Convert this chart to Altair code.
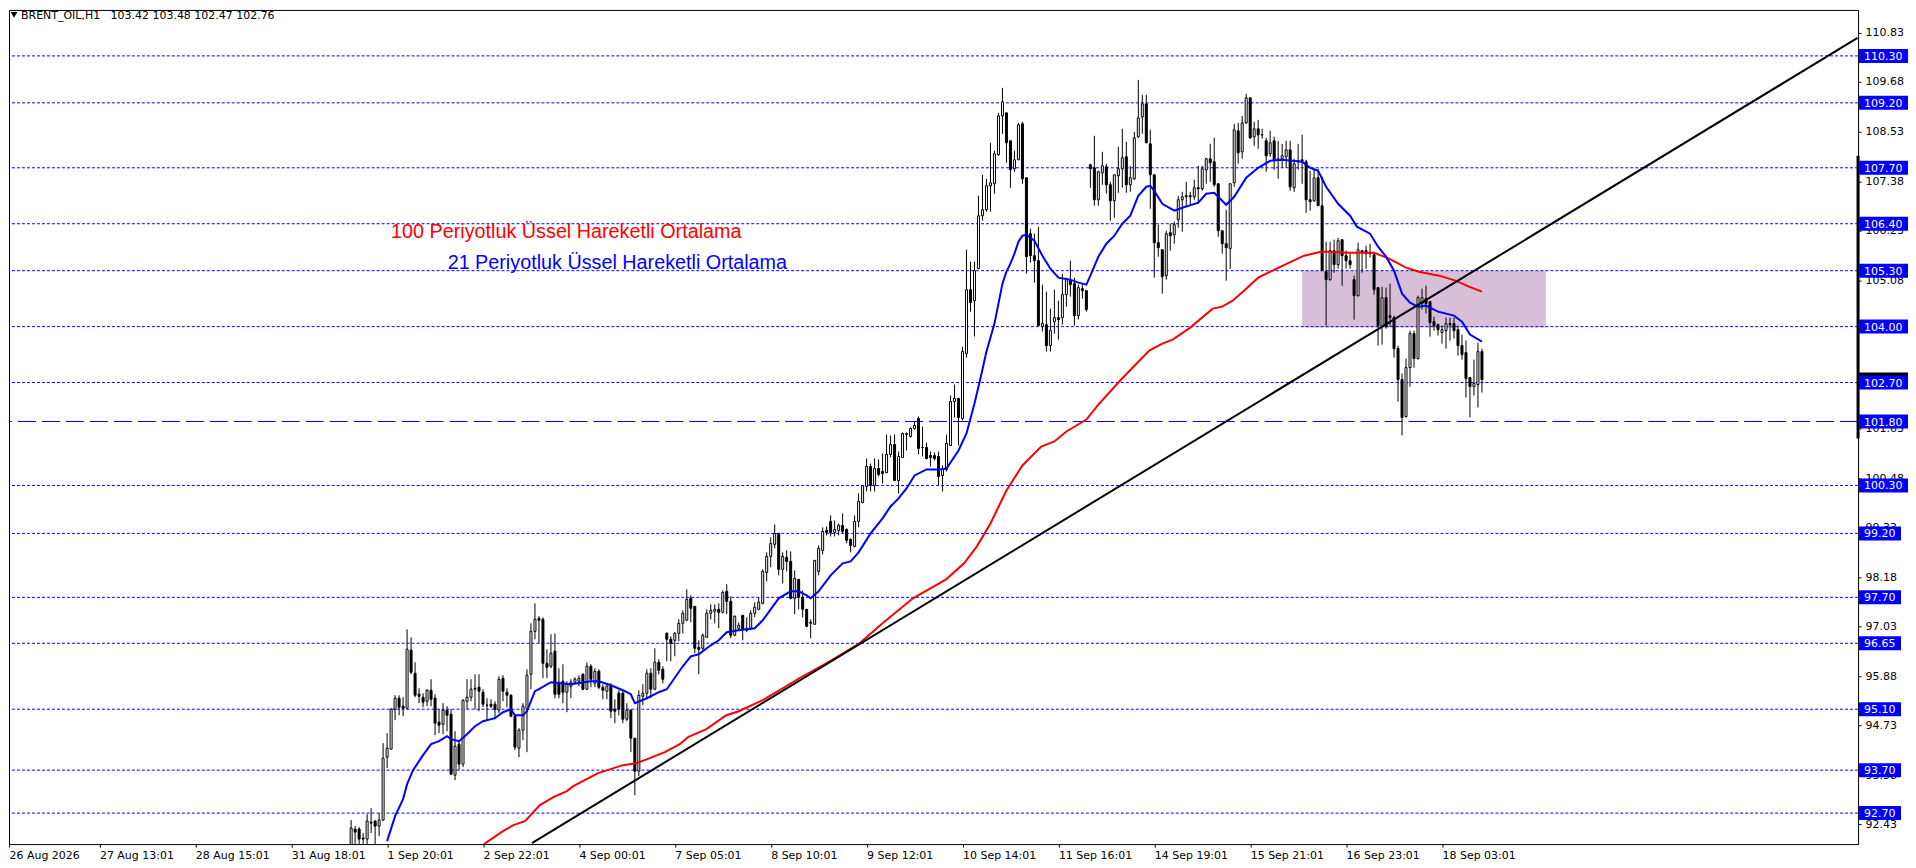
import json

import altair as alt
import pandas as pd

# hourly candles
opens = [
    91.9, 92.32, 92.32, 92.12, 92.09, 92.49, 92.5, 92.39, 92.52, 94.0,
    94.19, 95.1, 95.36, 95.19, 95.13, 96.49, 95.95, 95.45, 95.39, 95.29,
    95.54, 95.36, 94.81, 94.75, 95.08, 95.0, 93.57, 94.29, 93.84, 95.29,
    95.39, 95.58, 95.63, 95.51, 95.2, 95.23, 95.22, 95.09, 95.82, 95.51,
    95.43, 94.95, 94.21, 94.61, 95.1, 95.91, 96.92, 97.23, 97.2, 96.17,
    96.11, 96.46, 95.74, 95.76, 95.5, 95.64, 95.74, 95.77, 95.91, 95.58,
    96.11, 95.72, 95.99, 95.63, 95.53, 95.64, 95.1, 95.49, 95.49, 94.88,
    95.08, 94.44, 93.67, 95.41, 95.49, 95.94, 95.58, 96.2, 96.03, 96.88,
    96.74, 96.7, 96.88, 97.11, 97.17, 97.68, 97.5, 96.55, 96.53, 96.79,
    97.34, 97.39, 97.43, 97.37, 97.85, 97.61, 96.82, 97.0, 97.28, 97.0,
    97.0, 97.33, 97.44, 97.58, 98.3, 98.65, 98.94, 99.2, 98.36, 98.63,
    98.54, 97.68, 98.12, 97.72, 97.44, 97.13, 97.08, 98.31, 98.8, 99.27,
    99.47, 99.23, 99.27, 99.38, 99.29, 99.06, 98.89, 99.48, 99.92, 100.29,
    100.75, 100.3, 100.7, 100.64, 100.62, 101.03, 101.27, 100.43, 100.97, 101.5,
    101.45, 101.63, 101.87, 101.2, 101.2, 101.0, 101.0, 100.98, 100.55, 100.68,
    101.25, 102.26, 102.33, 101.87, 103.37, 104.86, 104.6, 105.35, 106.59, 106.73,
    107.27, 107.32, 108.0, 108.89, 108.98, 108.31, 107.67, 107.88, 108.72, 107.46,
    106.15, 105.66, 105.54, 104.01, 104.05, 103.57, 104.11, 104.21, 104.21, 104.75,
    105.06, 104.99, 104.25, 104.88, 104.84, 107.77, 107.69, 106.94, 107.57, 107.71,
    107.31, 106.92, 107.5, 107.67, 107.96, 107.31, 107.44, 108.41, 108.87, 109.17,
    108.25, 107.53, 105.95, 105.8, 105.18, 106.19, 106.14, 106.49, 106.95, 107.05,
    107.04, 107.01, 107.23, 107.21, 107.65, 107.91, 107.84, 107.32, 106.22, 105.93,
    105.81, 107.34, 108.55, 108.06, 108.74, 109.32, 108.41, 108.6, 108.47, 108.33,
    108.01, 108.31, 107.91, 107.91, 107.96, 108.12, 107.23, 107.85, 107.88, 107.84,
    106.95, 106.92, 107.46, 106.82, 105.29, 105.09, 105.76, 105.44, 106.02, 105.64,
    105.53, 105.09, 104.73, 105.76, 105.76, 105.71, 105.68, 104.91, 104.01, 104.67,
    104.26, 104.22, 103.49, 102.78, 101.92, 103.06, 103.84, 103.27, 104.53, 104.65,
    104.59, 104.12, 104.05, 103.86, 103.9, 104.08, 104.07, 103.93, 103.57, 103.4,
    102.81, 102.62, 102.65, 103.42,
]
highs = [
    92.52, 92.4, 92.37, 92.23, 92.67, 92.81, 92.52, 92.7, 94.33, 94.56,
    95.14, 95.43, 95.43, 95.39, 96.96, 96.79, 96.21, 95.6, 95.49, 95.58,
    95.8, 95.45, 95.1, 95.24, 95.18, 95.1, 94.6, 94.39, 95.33, 95.8,
    95.8, 95.91, 95.91, 95.57, 95.37, 95.33, 95.3, 95.88, 95.89, 95.6,
    95.45, 94.95, 94.67, 95.25, 96.03, 97.1, 97.58, 97.27, 97.24, 96.51,
    96.86, 96.88, 96.07, 96.15, 95.76, 95.81, 95.86, 95.89, 95.94, 96.19,
    96.15, 96.07, 96.03, 95.7, 95.68, 95.72, 95.33, 95.56, 95.55, 95.24,
    95.1, 94.44, 95.56, 95.68, 96.03, 96.07, 96.53, 96.28, 96.11, 96.9,
    96.8, 96.9, 97.19, 97.41, 97.89, 97.75, 97.5, 96.72, 96.88, 97.44,
    97.55, 97.55, 97.56, 97.87, 98.01, 97.73, 97.29, 97.13, 97.28, 97.25,
    97.41, 97.6, 97.72, 98.37, 98.76, 99.11, 99.4, 99.2, 98.76, 98.8,
    98.78, 98.34, 98.13, 97.87, 97.44, 97.21, 98.57, 98.92, 99.33, 99.36,
    99.61, 99.5, 99.42, 99.65, 99.3, 99.07, 99.61, 100.13, 100.31, 100.93,
    100.83, 100.93, 100.91, 101.05, 101.5, 101.47, 101.5, 101.09, 101.55, 101.53,
    101.65, 101.8, 101.91, 101.69, 101.31, 101.09, 101.07, 101.09, 100.78, 101.5,
    102.41, 102.66, 102.36, 103.53, 105.8, 105.5, 105.5, 107.05, 107.54, 107.44,
    108.28, 108.1, 108.98, 109.56, 108.98, 108.31, 108.1, 108.74, 108.77, 107.46,
    106.28, 106.16, 106.33, 104.98, 104.82, 104.42, 104.86, 104.61, 105.23, 105.15,
    105.54, 105.15, 104.98, 104.98, 104.84, 107.79, 108.43, 107.63, 108.06, 107.79,
    107.36, 107.53, 108.18, 108.6, 108.29, 107.75, 108.53, 109.73, 109.4, 109.38,
    108.58, 107.53, 106.36, 105.8, 106.22, 106.39, 106.43, 107.05, 107.13, 107.36,
    107.13, 107.42, 107.75, 107.75, 107.93, 108.24, 108.39, 107.32, 106.22, 106.72,
    107.32, 108.72, 108.74, 108.89, 109.42, 109.32, 108.76, 108.8, 108.6, 108.39,
    108.55, 108.41, 108.33, 108.25, 108.32, 108.31, 107.91, 108.25, 108.46, 107.88,
    107.63, 107.67, 107.67, 107.48, 105.97, 105.97, 106.02, 106.07, 106.02, 105.77,
    105.7, 105.19, 105.95, 105.77, 105.89, 105.93, 105.7, 104.91, 104.94, 104.91,
    105.0, 104.26, 103.57, 102.92, 103.26, 103.9, 103.91, 104.73, 104.88, 104.96,
    104.59, 104.24, 104.07, 104.03, 104.22, 104.21, 104.21, 104.03, 103.82, 103.68,
    102.81, 103.23, 103.63, 103.48,
]
lows = [
    91.7, 91.9, 91.9, 91.9, 91.9, 92.23, 91.9, 92.17, 92.5, 93.74,
    94.17, 94.85, 94.96, 94.95, 95.11, 95.91, 95.39, 95.24, 95.16, 95.19,
    95.19, 94.5, 94.56, 94.52, 94.6, 93.57, 93.47, 93.69, 93.76, 95.1,
    95.29, 95.12, 95.06, 95.16, 94.85, 95.14, 94.88, 95.02, 95.29, 95.16,
    94.92, 94.15, 93.99, 94.4, 94.1, 95.57, 96.73, 96.65, 95.83, 95.84,
    96.06, 95.37, 95.37, 95.25, 95.04, 95.37, 95.68, 95.64, 95.56, 95.55,
    95.63, 95.63, 95.58, 95.35, 95.33, 94.9, 94.79, 94.98, 94.79, 94.83,
    94.1, 93.12, 93.55, 95.2, 95.33, 95.37, 95.56, 95.91, 95.72, 96.22,
    96.22, 96.35, 96.69, 96.88, 97.17, 97.13, 96.41, 95.93, 96.46, 96.79,
    97.19, 97.11, 96.98, 97.33, 97.31, 96.75, 96.8, 96.94, 96.71, 96.9,
    96.94, 97.25, 97.41, 97.55, 98.09, 98.41, 98.84, 98.22, 98.03, 98.32,
    97.66, 97.31, 97.44, 97.25, 97.02, 96.76, 97.08, 98.22, 98.7, 99.15,
    99.13, 99.13, 99.15, 99.19, 98.97, 98.76, 98.88, 99.34, 99.9, 100.18,
    100.18, 100.18, 100.51, 100.35, 100.6, 100.97, 100.43, 100.13, 100.96, 101.13,
    101.42, 101.6, 101.02, 100.98, 100.92, 100.75, 100.9, 100.3, 100.16, 100.63,
    101.23, 101.89, 101.25, 101.83, 103.28, 104.36, 103.76, 105.35, 106.47, 106.67,
    106.67, 107.08, 107.98, 108.49, 107.8, 107.22, 107.6, 107.87, 107.32, 105.23,
    105.48, 105.02, 104.02, 103.88, 103.43, 103.43, 103.84, 103.71, 104.05, 104.46,
    104.71, 104.03, 104.16, 104.65, 104.36, 107.23, 106.82, 106.8, 107.3, 107.09,
    106.46, 106.53, 107.11, 107.23, 107.11, 107.13, 107.42, 108.39, 108.49, 108.27,
    106.74, 105.15, 105.62, 104.77, 105.1, 105.77, 105.93, 106.29, 106.2, 106.78,
    106.82, 106.94, 106.86, 107.17, 107.32, 107.36, 107.26, 106.1, 105.7, 105.06,
    105.35, 107.25, 107.79, 107.91, 108.72, 108.37, 108.2, 108.14, 108.37, 107.6,
    107.95, 107.65, 107.44, 107.7, 107.7, 107.17, 107.13, 107.65, 107.32, 106.64,
    106.7, 106.9, 106.82, 105.31, 104.02, 105.08, 105.25, 105.35, 104.95, 105.35,
    105.35, 104.17, 104.69, 105.25, 105.35, 105.6, 104.75, 103.57, 103.58, 103.95,
    104.01, 103.29, 102.25, 101.47, 101.9, 102.61, 103.06, 103.23, 104.4, 104.3,
    103.78, 103.91, 103.8, 103.6, 103.5, 103.68, 103.72, 103.33, 103.23, 102.35,
    101.88, 102.4, 102.12, 102.47,
]
closes = [
    92.35, 92.25, 92.08, 92.08, 92.51, 92.47, 92.39, 92.54, 93.98, 94.21,
    95.12, 95.37, 95.15, 95.13, 96.51, 95.97, 95.43, 95.41, 95.27, 95.54,
    95.33, 94.79, 94.73, 95.08, 94.98, 93.59, 94.26, 93.84, 95.31, 95.39,
    95.58, 95.6, 95.53, 95.22, 95.2, 95.19, 95.1, 95.8, 95.53, 95.43,
    94.95, 94.22, 94.63, 95.19, 95.89, 96.92, 97.21, 97.18, 96.17, 96.09,
    96.42, 95.45, 95.45, 95.5, 95.68, 95.74, 95.8, 95.84, 95.58, 96.11,
    95.8, 95.99, 95.63, 95.55, 95.64, 95.06, 95.06, 95.1, 94.88, 95.08,
    94.44, 93.67, 95.43, 95.49, 95.94, 95.58, 96.19, 96.01, 95.81, 96.74,
    96.65, 96.88, 97.11, 97.33, 97.66, 97.46, 96.53, 96.5, 96.82, 97.33,
    97.41, 97.44, 97.37, 97.82, 97.62, 96.82, 97.27, 97.06, 96.96, 96.94,
    97.33, 97.47, 97.6, 98.31, 98.66, 98.96, 99.19, 98.36, 98.66, 98.54,
    97.68, 98.14, 97.72, 97.42, 97.03, 97.1, 98.57, 98.84, 99.25, 99.21,
    99.23, 99.29, 99.37, 99.25, 99.03, 98.92, 99.47, 99.94, 100.31, 100.75,
    100.31, 100.7, 100.57, 100.6, 101.03, 101.27, 100.43, 100.99, 101.51, 101.51,
    101.63, 101.71, 101.17, 101.2, 100.94, 100.96, 100.93, 100.53, 100.68, 101.29,
    102.26, 102.33, 101.89, 103.42, 104.86, 104.57, 105.31, 106.59, 106.72, 107.27,
    107.35, 108.01, 108.89, 109.22, 108.28, 107.65, 107.88, 108.7, 107.43, 105.62,
    105.64, 105.54, 104.03, 104.07, 103.57, 103.91, 104.21, 104.17, 104.74, 105.1,
    104.98, 104.25, 104.91, 104.83, 104.4, 107.67, 106.94, 107.61, 107.74, 107.29,
    106.92, 107.53, 107.67, 107.93, 107.3, 107.46, 108.39, 108.86, 109.17, 108.27,
    107.52, 105.95, 105.83, 105.17, 106.16, 106.11, 106.36, 106.95, 107.03, 107.03,
    107.02, 107.23, 107.2, 107.67, 107.91, 107.81, 107.31, 106.22, 105.93, 105.83,
    107.32, 108.58, 108.04, 108.74, 109.32, 108.39, 108.6, 108.45, 108.45, 107.98,
    108.28, 107.88, 107.87, 107.97, 108.12, 107.25, 107.79, 107.83, 107.86, 106.95,
    106.9, 107.46, 106.82, 105.31, 105.1, 105.77, 105.44, 106.01, 105.64, 105.53,
    105.45, 104.73, 105.79, 105.71, 105.7, 105.7, 104.86, 104.03, 104.67, 104.01,
    104.22, 103.5, 102.77, 101.9, 103.05, 103.84, 103.27, 104.67, 104.67, 104.53,
    104.09, 104.03, 103.93, 103.93, 104.07, 104.05, 103.91, 103.57, 103.36, 102.79,
    102.6, 102.67, 103.43, 102.76,
]

# moving averages, read at the bends of each line
ema21_bars = [
    9, 11, 13, 14, 15.5, 18, 20, 22, 24, 25, 27, 29, 31, 33, 36, 38, 40, 41, 43, 44,
    46, 47, 50, 55, 60, 62, 65, 68, 70, 71, 74, 77, 79, 83, 85, 87, 90, 92, 94, 97,
    101, 103, 105, 107, 110, 112, 114, 115, 117, 120, 123, 125, 127, 130, 133, 135, 137, 139, 141, 144,
    147, 149, 152, 154, 156, 157.6, 159, 161, 163, 164, 165, 166, 167, 168, 169, 171, 173, 175, 177, 180,
    182, 184, 185, 187, 189, 191, 193, 195, 197, 199, 200, 201, 203, 206, 208, 212, 214, 216, 219, 221,
    224, 227, 230, 233, 238, 240, 242, 244, 247, 250, 251.7, 255, 257, 259, 261, 263, 265, 267, 269, 272,
    276, 278, 280, 283,
]
ema21_values = [
    92.04, 92.62, 93.01, 93.36, 93.69, 94.05, 94.29, 94.36, 94.48, 94.42, 94.36, 94.54, 94.71, 94.84, 94.91, 95.05, 95.1, 94.97, 94.97, 95.06,
    95.53, 95.58, 95.74, 95.7, 95.75, 95.77, 95.66, 95.56, 95.45, 95.24, 95.36, 95.51, 95.58, 96.11, 96.34, 96.38, 96.59, 96.72, 96.89, 96.94,
    96.98, 97.17, 97.44, 97.68, 97.85, 97.85, 97.75, 97.69, 97.85, 98.22, 98.51, 98.55, 98.76, 99.19, 99.54, 99.82, 100.0, 100.23, 100.54, 100.68,
    100.69, 100.71, 101.13, 101.52, 102.22, 102.85, 103.41, 104.07, 105.0, 105.29, 105.46, 105.7, 105.97, 106.12, 106.14, 106.01, 105.66, 105.35, 105.15, 105.1,
    105.02, 104.98, 105.19, 105.62, 105.93, 106.12, 106.39, 106.57, 107.05, 107.26, 107.27, 107.17, 106.86, 106.7, 106.76, 106.88, 107.08, 107.12, 106.84, 107.01,
    107.46, 107.7, 107.85, 107.87, 107.84, 107.7, 107.62, 107.25, 106.86, 106.57, 106.33, 106.15, 105.85, 105.62, 105.31, 104.77, 104.55, 104.46, 104.48, 104.36,
    104.26, 104.11, 103.82, 103.66,
]
ema100_bars = [
    33.25, 38, 40.6, 43.5, 47.25, 50.6, 54, 55.6, 61.8, 68, 71.4, 74.75, 78.5, 82.25, 84.3, 88.9, 93.9, 97,
    103, 108, 113, 118, 120.6, 127.25, 133, 140.6, 148.9, 153.4, 156.6, 160, 164, 168, 172.7, 176, 179, 184, 187,
    192.7, 199.75, 203, 205.6, 210, 215.6, 218, 220.6, 224, 227, 230.6, 234.75, 238.5, 242.7, 244.75, 249.75, 256,
    259.75, 264, 267.25, 272.25, 276.4, 279.75, 283,
]
ema100_values = [
    91.98, 92.27, 92.41, 92.5, 92.88, 93.06, 93.2, 93.33, 93.63, 93.82, 93.86, 93.98, 94.11, 94.29, 94.46, 94.64, 94.97, 95.06,
    95.32, 95.6, 95.88, 96.12, 96.27, 96.65, 97.1, 97.68, 98.13, 98.5, 98.89, 99.43, 100.2, 100.78, 101.21, 101.34, 101.56, 101.85, 102.2,
    102.77, 103.45, 103.6, 103.7, 103.99, 104.42, 104.46, 104.6, 104.88, 105.13, 105.31, 105.48, 105.66, 105.75, 105.74, 105.72, 105.71,
    105.58, 105.37, 105.29, 105.19, 105.08, 104.92, 104.82,
]

# horizontal levels and the trend line
dotted_levels = [110.30, 109.20, 107.70, 106.40, 105.30, 104.00, 102.70, 100.30, 99.20, 97.70, 96.65, 95.10, 93.70, 92.70]
dashed_levels = [101.80]
trend_bars = [45.25, 377]
trend_values = [91.99, 110.71]
zone_bars = [238, 299]
zone_values = [103.97, 105.30]

price_ticks = [110.83, 109.68, 108.53, 107.38, 106.23, 105.08, 103.93, 102.78, 101.63, 100.48,
               99.33, 98.18, 97.03, 95.88, 94.73, 93.58, 92.43]
time_bars = [-85.625, -63, -39, -15, 9, 33, 57, 81, 105, 129, 153, 177, 201, 225, 249, 273]
time_labels = ['26 Aug 2026', '27 Aug 13:01', '28 Aug 15:01', '31 Aug 18:01', '1 Sep 20:01', '2 Sep 22:01',
               '4 Sep 00:01', '7 Sep 05:01', '8 Sep 10:01', '9 Sep 12:01', '10 Sep 14:01', '11 Sep 16:01',
               '14 Sep 19:01', '15 Sep 21:01', '16 Sep 23:01', '18 Sep 03:01']
header = 'BRENT_OIL,H1\u00a0\u00a0\u00a0103.42 103.48 102.47 102.76'
last_price = [102.76]
notes = ['100 Periyotluk Üssel Hareketli Ortalama', '21 Periyotluk Üssel Hareketli Ortalama']
note_bars = [10, 24.15]
note_values = [106.07, 105.34]
note_colors = ['#ff0000', '#0000ff']

BAR_DOMAIN = [-85.625, 377.125]
PRICE_DOMAIN = [91.9743, 111.3623]
FONT = 'DejaVu Sans'

candles = pd.DataFrame({'bar': range(len(opens)), 'open': opens, 'high': highs, 'low': lows, 'close': closes})
candles['direction'] = ['up' if c >= o else 'down' for o, c in zip(opens, closes)]

# padding=0 or the bars make vega-lite pad the x scale; round keeps prices on whole pixels
x_scale = alt.Scale(domain=BAR_DOMAIN, nice=False, zero=False, padding=0)
y_scale = alt.Scale(domain=PRICE_DOMAIN, nice=False, zero=False, padding=0, round=True)
x_axis = alt.Axis(values=time_bars,
                  labelExpr=json.dumps({str(b): t for b, t in zip(time_bars, time_labels)}) + '[datum.value]',
                  title=None, grid=False, domain=False, tickSize=3, tickColor='black',
                  labelAlign='left', labelBaseline='top', labelPadding=2, labelAngle=0,
                  labelColor='black', labelFont=FONT, labelFontSize=11, labelOverlap=False)
y_axis = alt.Axis(orient='right', values=price_ticks, format='.2f', title=None, grid=False,
                  domain=False, tickSize=3, tickColor='black', labelPadding=4,
                  labelColor='black', labelFont=FONT, labelFontSize=11, labelOverlap=False)


def x_enc(field='bar'):
    return alt.X(field + ':Q', scale=x_scale, axis=x_axis)


def y_enc(field='price'):
    return alt.Y(field + ':Q', scale=y_scale, axis=y_axis)


zone = (alt
        .Chart(pd.DataFrame({'bar': [zone_bars[0]], 'bar2': [zone_bars[1]], 'price': [zone_values[0]], 'price2': [zone_values[1]]}))
        .mark_rect(color='#d8bfd8')
        .encode(x=x_enc(), x2='bar2:Q', y=y_enc(), y2='price2:Q'))

dotted = (alt
          .Chart(pd.DataFrame({'price': dotted_levels}))
          .mark_rule(color='#0000ff', strokeWidth=1, strokeDash=[3, 2])
          .encode(y=y_enc()))
dashed = (alt
          .Chart(pd.DataFrame({'price': dashed_levels}))
          .mark_rule(color='#0000ff', strokeWidth=1, strokeDash=[18, 6])
          .encode(y=y_enc()))

wicks = (alt
         .Chart(candles)
         .mark_rule(color='black', strokeWidth=1, clip=True)
         .encode(x=x_enc(), y=y_enc('low'), y2='high:Q'))
bodies = (alt
          .Chart(candles)
          .mark_bar(size=2, stroke='black', strokeWidth=1, clip=True)
          .encode(x=x_enc(), y=y_enc('open'), y2='close:Q',
                  color=alt.Color('direction:N', legend=None,
                                  scale=alt.Scale(domain=['up', 'down'], range=['white', 'black']))))

ema100 = (alt
          .Chart(pd.DataFrame({'bar': ema100_bars, 'price': ema100_values}))
          .mark_line(color='#ff0000', strokeWidth=2, clip=True)
          .encode(x=x_enc(), y=y_enc()))
ema21 = (alt
         .Chart(pd.DataFrame({'bar': ema21_bars, 'price': ema21_values}))
         .mark_line(color='#0000ff', strokeWidth=2, clip=True)
         .encode(x=x_enc(), y=y_enc()))
trend = (alt
         .Chart(pd.DataFrame({'bar': trend_bars, 'price': trend_values}))
         .mark_line(color='black', strokeWidth=2)
         .encode(x=x_enc(), y=y_enc()))

note_text = (alt
             .Chart(pd.DataFrame({'bar': note_bars, 'price': note_values, 'note': notes, 'col': note_colors}))
             .mark_text(align='left', baseline='alphabetic', font='Liberation Sans', fontSize=19.8)
             .encode(x=x_enc(), y=y_enc(), text='note:N', color=alt.Color('col:N', scale=None)))

# thick scale marker on the right edge, then the price boxes
scale_bar = (alt
             .Chart(pd.DataFrame({'bar': [BAR_DOMAIN[1]], 'price': [107.97], 'price2': [101.4]}))
             .mark_rule(color='black', strokeWidth=3)
             .encode(x=x_enc(), y=y_enc(), y2='price2:Q'))
last_box = (alt
            .Chart(pd.DataFrame({'price': last_price}))
            .mark_rule(color='black', strokeWidth=14)
            .encode(y=y_enc(), x=alt.value(1852), x2=alt.value(1901)))
boxes_long = (alt
              .Chart(pd.DataFrame({'price': [p for p in dotted_levels + dashed_levels if p >= 100]}))
              .mark_rule(color='#0000ff', strokeWidth=14)
              .encode(y=y_enc(), x=alt.value(1852), x2=alt.value(1901)))
boxes_short = (alt
               .Chart(pd.DataFrame({'price': [p for p in dotted_levels if p < 100]}))
               .mark_rule(color='#0000ff', strokeWidth=14)
               .encode(y=y_enc(), x=alt.value(1852), x2=alt.value(1894)))
box_text = (alt
            .Chart(pd.DataFrame({'price': dotted_levels + dashed_levels}))
            .mark_text(align='left', baseline='middle', color='white', font=FONT, fontSize=11, dy=1)
            .encode(y=y_enc(), x=alt.value(1857), text=alt.Text('price:Q', format='.2f')))

top_label = (alt
             .Chart(pd.DataFrame({'t': [header]}))
             .mark_text(align='left', baseline='middle', color='black', font=FONT, fontSize=11)
             .encode(x=alt.value(12), y=alt.value(6), text='t:N'))
top_arrow = (alt
             .Chart(pd.DataFrame({'a': [0]}))
             .mark_point(shape='triangle-down', filled=True, color='black', size=45, opacity=1)
             .encode(x=alt.value(5), y=alt.value(5)))

chart = (alt
         .layer(zone, dotted, dashed, wicks, bodies, ema100, ema21, trend, note_text,
                scale_bar, last_box, boxes_long, boxes_short, box_text, top_label, top_arrow)
         .resolve_scale(color='independent')
         .properties(width=1851, height=835,
                     padding={'left': 1, 'top': 1.5, 'right': 50, 'bottom': 18.5},
                     autosize=alt.AutoSizeParams(type='none'),
                     background='white')
         .configure_view(stroke='black', strokeWidth=1))

chart.save("out.html", embed_options={"renderer": "svg", "actions": False})
